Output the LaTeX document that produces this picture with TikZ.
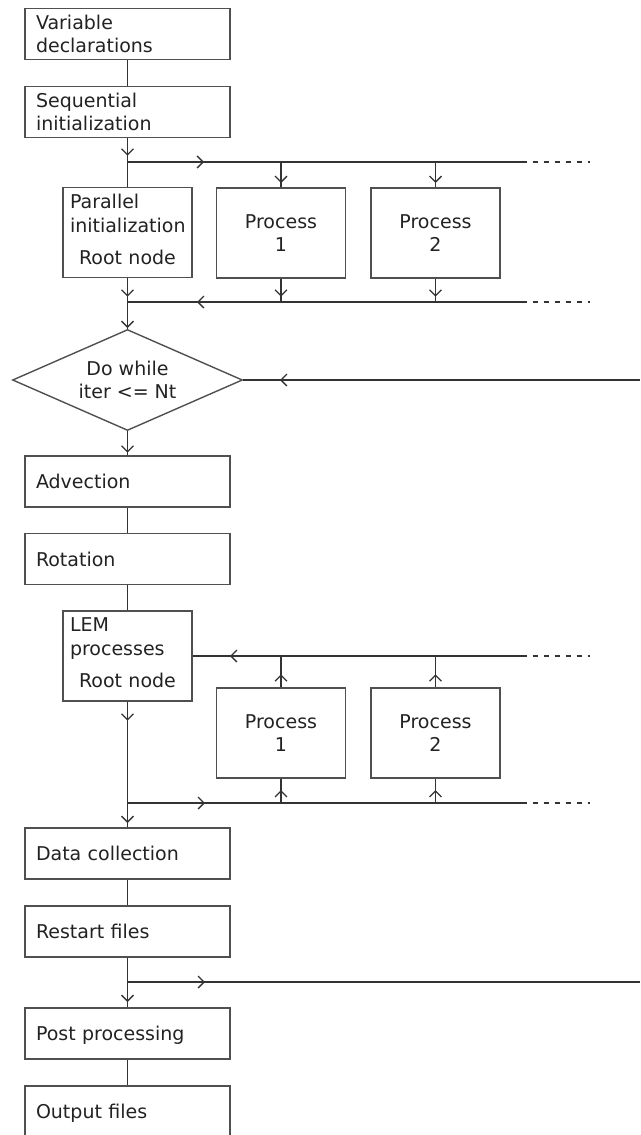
\documentclass[tikz,border=0pt]{standalone}
\usepackage{fontspec}
\setmainfont{DejaVu Sans}
\usetikzlibrary{arrows.meta,shapes.geometric,decorations.markings}

\definecolor{txt}{HTML}{222222}
\definecolor{boxc}{HTML}{505050}
\definecolor{linec}{HTML}{333333}

\tikzset{
  every node/.style={font=\fontsize{19}{23.5}\selectfont, text=txt},
  flowbox/.style={draw=boxc, line width=1.4pt, rectangle, inner sep=0pt,
    inner xsep=11pt, text width=183pt, minimum height=51pt, align=left},
  onebox/.style={flowbox, text depth=0pt},
  rootbox/.style={draw=boxc, line width=1.4pt, rectangle, inner sep=0pt,
    inner xsep=7pt, text width=115pt, minimum height=90pt, align=left},
  procbox/.style={draw=boxc, line width=1.4pt, rectangle, inner sep=0pt,
    text width=129pt, minimum height=90pt, align=center},
  decision/.style={draw=boxc, line width=1.4pt, diamond, inner sep=0pt, aspect=2.28,
    minimum width=230pt, minimum height=101pt, align=center},
  wire/.style={draw=linec, color=linec, line width=1.3pt},
  busend/.style={wire, dash pattern=on 5.5pt off 5.5pt, dash phase=5.5pt},
  mk/.style={postaction={decorate, decoration={markings,
    mark=at position #1 with {\arrow{Straight Barb[length=6pt,width=12pt]}}}}},
}

\begin{document}
\begin{tikzpicture}[x=1pt, y=-1pt]
\useasboundingbox (0,0) rectangle (640,1135);

% main column
\node[flowbox] (vd) at (127.5,34) {Variable\\declarations};
\node[flowbox] (si) at (127.5,112) {Sequential\\initialization};
\node[rootbox] (par) at (127.5,232.5) {Parallel\\initialization\par\vspace{9pt}\centering Root node\par\vspace*{6pt}};
\node[procbox] (p1) at (281,233) {Process\\1};
\node[procbox] (p2) at (435.5,233) {Process\\2};
\node[decision] (dia) at (127.5,380) {Do while\\iter <= Nt};
\node[onebox] (adv) at (127.5,481.5) {Advection};
\node[onebox] (rot) at (127.5,559) {Rotation};
\node[rootbox] (lem) at (127.5,656) {LEM\\processes\par\vspace{9pt}\centering Root node\par\vspace*{6pt}};
\node[procbox] (lp1) at (281,733) {Process\\1};
\node[procbox] (lp2) at (435.5,733) {Process\\2};
\node[onebox] (dc) at (127.5,853.5) {Data collection};
\node[onebox] (rf) at (127.5,931.5) {Restart files};
\node[onebox] (pp) at (127.5,1033.5) {Post processing};
\node[onebox] (of) at (127.5,1111.5) {Output files};

% junctions on the buses
\coordinate (j1) at (127.5,162);
\coordinate (t1) at (281,162);
\coordinate (t2) at (435.5,162);
\coordinate (e1) at (527,162);
\coordinate (f1) at (590,162);
\coordinate (j2) at (127.5,302);
\coordinate (b1) at (281,302);
\coordinate (b2) at (435.5,302);
\coordinate (e2) at (527,302);
\coordinate (f2) at (590,302);
\coordinate (lp) at (640,380);
\coordinate (u1) at (281,656);
\coordinate (u2) at (435.5,656);
\coordinate (e3) at (527,656);
\coordinate (f3) at (590,656);
\coordinate (j3) at (127.5,803);
\coordinate (v1) at (281,803);
\coordinate (v2) at (435.5,803);
\coordinate (e4) at (527,803);
\coordinate (f4) at (590,803);
\coordinate (j4) at (127.5,982);
\coordinate (rr) at (640,982);

% initialisation
\draw[wire] (vd) -- (si);
\draw[wire, mk=17.5pt] (si) -- (j1);
\draw[wire] (j1) -- (par);
\draw[wire, mk=76.5pt] (j1) -- (e1);
\draw[busend] (e1) -- (f1);
\draw[wire, mk=21pt] (t1) -- (p1);
\draw[wire, mk=21pt] (t2) -- (p2);
\draw[wire, mk=18.5pt] (par) -- (j2);
\draw[wire, mk=18pt] (p1) -- (b1);
\draw[wire, mk=18pt] (p2) -- (b2);
\draw[wire, mk=330pt] (e2) -- (j2);
\draw[busend] (e2) -- (f2);
\draw[wire, mk=26pt] (j2) -- (dia);

% time loop
\draw[wire, mk=360pt] (lp) -- (dia.east);
\draw[wire, mk=21.5pt] (dia) -- (adv);
\draw[wire] (adv) -- (rot);
\draw[wire] (rot) -- (lem);
\draw[wire, mk=19pt] (lem) -- (j3);
\draw[wire, mk=20pt] (j3) -- (dc);
\draw[wire, mk=297pt] (e3) -- (lem.east);
\draw[busend] (e3) -- (f3);
\draw[wire, mk=13pt] (lp1) -- (u1);
\draw[wire, mk=13pt] (lp2) -- (u2);
\draw[wire, mk=13pt] (v1) -- (lp1);
\draw[wire, mk=13pt] (v2) -- (lp2);
\draw[wire, mk=77.5pt] (j3) -- (e4);
\draw[busend] (e4) -- (f4);
\draw[wire] (dc) -- (rf);
\draw[wire] (rf) -- (j4);
\draw[wire, mk=77.5pt] (j4) -- (rr);
\draw[wire, mk=20pt] (j4) -- (pp);
\draw[wire] (pp) -- (of);
\end{tikzpicture}
\end{document}
